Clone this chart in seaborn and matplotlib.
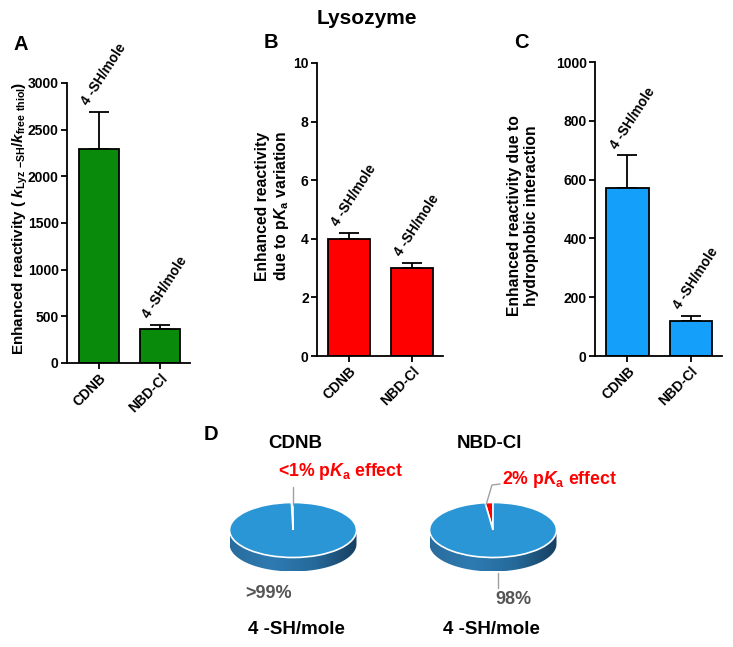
import numpy as np
import pandas as pd
import matplotlib
matplotlib.use('Agg')
import matplotlib.pyplot as plt
import seaborn as sns
from matplotlib.colors import LinearSegmentedColormap
from matplotlib.patches import Polygon

# ---------------- data ----------------
categories = ['CDNB', 'NBD-Cl']
vals_A = [2290, 365]
err_A = [400, 42]
vals_B = [4.0, 3.0]
err_B = [0.21, 0.17]
vals_C = [572, 120]
err_C = [110, 16]
ticks_A = [0, 500, 1000, 1500, 2000, 2500, 3000]
ticks_B = [0, 2, 4, 6, 8, 10]
ticks_C = [0, 200, 400, 600, 800, 1000]
annot = '4 -SH/mole'
pie_titles = ['CDNB', 'NBD-Cl']
pka_share = [0.4, 2.0]
rest_share = [99.6, 98.0]
pka_labels = ['<1% p$\\mathit{K}_\\mathrm{a}$ effect', '2% p$\\mathit{K}_\\mathrm{a}$ effect']
rest_labels = ['>99%', '98%']

# ---------------- style ----------------
sns.set_theme(style='ticks')
plt.rcParams['font.family'] = ['Liberation Sans', 'DejaVu Sans']
plt.rcParams['font.weight'] = 'bold'
plt.rcParams['text.color'] = 'black'
plt.rcParams['axes.labelcolor'] = 'black'
plt.rcParams['xtick.color'] = 'black'
plt.rcParams['ytick.color'] = 'black'
plt.rcParams['mathtext.fontset'] = 'custom'
plt.rcParams['mathtext.rm'] = 'Liberation Sans:bold'
plt.rcParams['mathtext.it'] = 'Liberation Sans:bold:italic'
plt.rcParams['mathtext.bf'] = 'Liberation Sans:bold'

W, H = 733, 647
fig = plt.figure(figsize=(W / 100, H / 100), dpi=100)
fig.patch.set_facecolor('white')


def rect(l, t, r, b):
    return [l / W, 1 - b / H, (r - l) / W, (b - t) / H]


def bar_panel(rpx, vals, errs, color, ylim, ticks, xlim, width):
    ax = fig.add_axes(rect(*rpx))
    df = pd.DataFrame({'cat': categories, 'val': vals})
    ax.errorbar(range(len(vals)), vals, yerr=[np.zeros(len(vals)), errs],
                fmt='none', ecolor='black', elinewidth=1.3, capsize=7,
                capthick=1.3, zorder=1)
    sns.barplot(data=df, x='cat', y='val', color=color, edgecolor='black',
                linewidth=1.3, width=width, saturation=1, ax=ax, zorder=2)
    ax.set_xlim(*xlim)
    ax.set_ylim(*ylim)
    ax.set_yticks(ticks)
    ax.set_yticklabels([str(t) for t in ticks], fontsize=10, fontweight='bold',
                       color='black')
    ax.set_xticks(range(len(categories)))
    ax.set_xticklabels(categories, rotation=45, ha='right',
                       rotation_mode='anchor', fontsize=10, fontweight='bold',
                       color='black')
    ax.set_xlabel('')
    ax.set_ylabel('')
    ax.set_facecolor('none')
    sns.despine(ax=ax)
    for s in ['left', 'bottom']:
        ax.spines[s].set_linewidth(1.3)
        ax.spines[s].set_color('black')
    ax.tick_params(axis='both', width=1.3, length=4, direction='out',
                   colors='black', pad=2)
    for i, (v, e) in enumerate(zip(vals, errs)):
        ax.annotate(annot, xy=(i, v + e), xytext=(-6, 3),
                    textcoords='offset points', rotation=57, ha='left',
                    va='bottom', rotation_mode='anchor', fontsize=9.8,
                    fontweight='bold', color='black', annotation_clip=False)
    return ax


bar_panel((67, 83, 190, 363), vals_A, err_A, '#0a8a0a', (0, 3000), ticks_A,
          (-0.52, 1.49), 0.66)
bar_panel((317, 63, 443, 356), vals_B, err_B, '#ff0000', (0, 10), ticks_B,
          (-0.51, 1.49), 0.67)
bar_panel((595, 62, 722, 356), vals_C, err_C, '#14a0fa', (0, 1000), ticks_C,
          (-0.51, 1.49), 0.67)

# ---------------- pies ----------------
side_cmap = LinearSegmentedColormap.from_list(
    'side', ['#2a6c9c', '#2e7bb2', '#256a9a', '#173f60'])


def pie_panel(cx, cy, pka, rest):
    a, b, t = 63.5, 27.5, 14.0
    l, r, top, bot = cx - 72, cx + 72, cy - 36, cy + 52
    ax = fig.add_axes(rect(l, top, r, bot))
    ax.pie([pka, rest], colors=['#ff0000', '#2a96d5'], startangle=90,
           counterclock=True, radius=1,
           wedgeprops=dict(edgecolor='white', linewidth=1.2, zorder=2))
    th = np.linspace(np.pi, 2 * np.pi, 120)
    lower = np.column_stack([np.cos(th), np.sin(th) - t / b])
    upper = np.column_stack([np.cos(th[::-1]), np.sin(th[::-1])])
    poly = Polygon(np.vstack([lower, upper]), closed=True,
                   facecolor='none', edgecolor='none')
    ax.add_patch(poly)
    grad = np.linspace(0, 1, 256).reshape(1, -1)
    im = ax.imshow(grad, extent=[-1, 1, -1 - t / b, 0], aspect='auto',
                   cmap=side_cmap, zorder=0)
    im.set_clip_path(poly)
    ax.set_aspect('auto')
    ax.set_xlim(-72 / a, 72 / a)
    ax.set_ylim(-52 / b, 36 / b)
    ax.axis('off')


pie_panel(293, 530, pka_share[0], rest_share[0])
pie_panel(493, 530, pka_share[1], rest_share[1])

# ---------------- overlay text ----------------
ov = fig.add_axes([0, 0, 1, 1])
ov.set_xlim(0, W)
ov.set_ylim(H, 0)
ov.axis('off')

ov.text(367, 18, 'Lysozyme', ha='center', va='center', fontsize=15,
        fontweight='bold')
for x, y, s in [(21, 44, 'A'), (271, 43, 'B'), (521, 43, 'C'), (211, 434, 'D')]:
    ov.text(x, y, s, ha='center', va='center', fontsize=14.5, fontweight='bold')

ov.text(20, 218,
        'Enhanced reactivity ( $\\mathit{k}_\\mathrm{Lyz\\ {-}SH}/\\mathit{k}_\\mathrm{free\\ thiol}$)',
        rotation=90, ha='center', va='center', fontsize=11, fontweight='bold')
ov.text(273, 206, 'Enhanced reactivity\ndue to p$\\mathit{K}_\\mathrm{a}$ variation',
        rotation=90, ha='center', va='center', fontsize=11.3, fontweight='bold',
        linespacing=1.1)
ov.text(523, 216, 'Enhanced reactivity due to\nhydrophobic interaction',
        rotation=90, ha='center', va='center', fontsize=11.3, fontweight='bold',
        linespacing=1.1)

# pie titles and labels
ov.text(295, 443, pie_titles[0], ha='center', va='center', fontsize=13.5,
        fontweight='bold')
ov.text(490, 443, pie_titles[1], ha='center', va='center', fontsize=13.5,
        fontweight='bold')
ov.text(296, 630, annot, ha='center', va='center', fontsize=13.5,
        fontweight='bold')
ov.text(491, 630, annot, ha='center', va='center', fontsize=13.5,
        fontweight='bold')

ov.plot([293, 293], [487, 505], color='#a0a0a0', lw=1)
ov.text(278, 472, pka_labels[0], ha='left', va='center', fontsize=12.7,
        fontweight='bold', color='#ff0000')
ov.plot([486, 492, 500], [505, 485, 484], color='#a0a0a0', lw=1)
ov.text(502, 480, pka_labels[1], ha='left', va='center', fontsize=12.7,
        fontweight='bold', color='#ff0000')
ov.text(245, 594, rest_labels[0], ha='left', va='center', fontsize=13,
        fontweight='bold', color='#555555')
ov.plot([498, 498], [573, 588], color='#a0a0a0', lw=1)
ov.text(495, 600, rest_labels[1], ha='left', va='center', fontsize=13,
        fontweight='bold', color='#555555')

fig.savefig('out.png', dpi=100, facecolor='white')
